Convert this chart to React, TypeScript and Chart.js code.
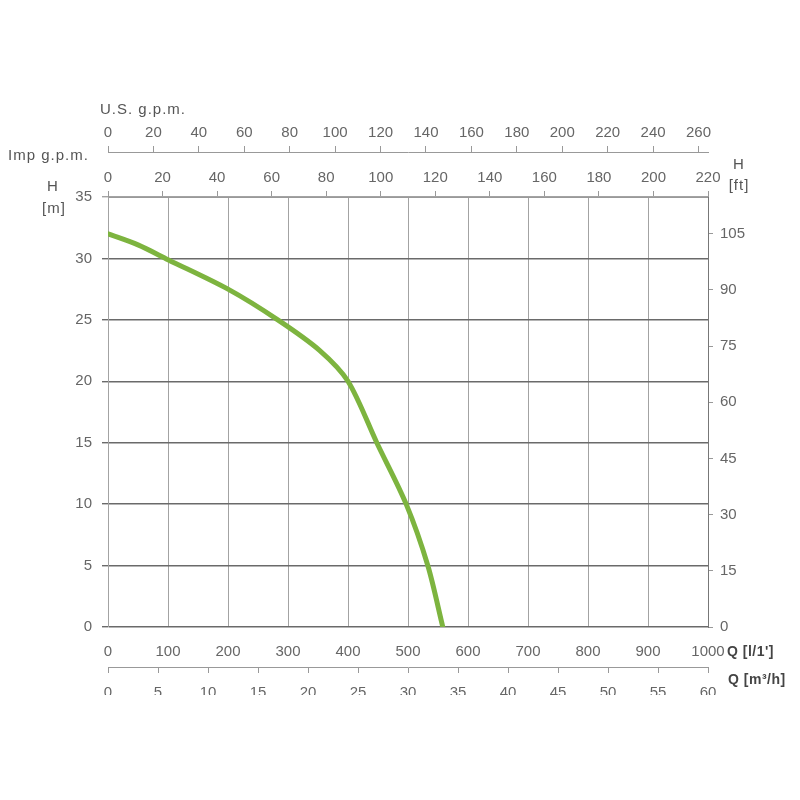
import React, { useEffect, useRef } from 'react';
import { Chart, registerables } from 'chart.js';

Chart.register(...registerables);

// Pump curve: flow Q [l/min] vs head H [m]
const flowLpm = [0, 50, 100, 200, 283, 353, 400, 448, 497, 533, 558];
const headM = [32, 31.1, 29.9, 27.5, 25.0, 22.5, 20, 15, 10, 5, 0];

// Axis ranges and steps
const qMax = 1000;
const qStep = 100;
const hMax = 35;
const hStep = 5;
const ftStep = 15;
const m3hStep = 5;
const gpmStep = 20;

// Unit conversions
const M_TO_FT = 3.28084;
const LPM_TO_M3H = 0.06;
const LPM_TO_USGPM = 0.264172;
const IMP_MAX = 220;

const FONT = '"Liberation Sans", Arial, sans-serif';
const TICK_COLOR = '#666';
const LIGHT_GRID = '#a3a3a3';
const DARK_GRID = '#6a6a6a';
const CURVE_COLOR = '#7db43f';

const tickFont = { family: FONT, size: 15 };
const plain = (v: any) => String(Math.round(Number(v) * 100) / 100);

const titlesPlugin = {
  id: 'axisTitles',
  afterDraw(chart: any) {
    const { ctx, chartArea: a } = chart;
    ctx.save();
    ctx.font = `15px ${FONT}`;
    (ctx as any).letterSpacing = '1px';
    ctx.fillStyle = '#555';
    ctx.textBaseline = 'middle';
    ctx.textAlign = 'left';
    ctx.fillText('U.S. g.p.m.', a.left - 8, a.top - 87);
    ctx.fillText('Imp g.p.m.', 8, a.top - 41);
    ctx.textAlign = 'center';
    ctx.fillText('H', a.left - 55, a.top - 10);
    ctx.fillText('[m]', a.left - 54, a.top + 12);
    ctx.fillText('H', a.right + 31, a.top - 32);
    ctx.fillText('[ft]', a.right + 31, a.top - 11);
    ctx.textAlign = 'left';
    ctx.fillStyle = '#444';
    ctx.font = `bold 14px ${FONT}`;
    (ctx as any).letterSpacing = '0.5px';
    ctx.fillText("Q [l/1']", a.right + 19, a.bottom + 25);
    ctx.fillText('Q [m³/h]', a.right + 20, a.bottom + 53);
    ctx.restore();
  },
};

export default function App() {
  const ref = useRef<HTMLCanvasElement | null>(null);

  useEffect(() => {
    if (!ref.current) return;
    const points = flowLpm.map((q, i) => ({ x: q, y: headM[i] }));
    const chart = new Chart(ref.current, {
      type: 'line',
      data: {
        datasets: [
          {
            data: points,
            borderColor: CURVE_COLOR,
            borderWidth: 5,
            pointRadius: 0,
            fill: false,
            tension: 0.3,
            borderCapStyle: 'round',
            borderJoinStyle: 'round',
            xAxisID: 'x',
            yAxisID: 'y',
          },
        ],
      },
      options: {
        responsive: false,
        animation: false,
        devicePixelRatio: 1,
        layout: { padding: 0 },
        plugins: { legend: { display: false }, tooltip: { enabled: false } },
        scales: {
          x: {
            type: 'linear',
            position: 'bottom',
            weight: 0,
            min: 0,
            max: qMax,
            ticks: { stepSize: qStep, autoSkip: false, maxRotation: 0, color: TICK_COLOR, font: tickFont, padding: 16, callback: plain },
            grid: { color: LIGHT_GRID, lineWidth: 1, drawTicks: false, tickLength: 0 },
            border: { display: false },
            afterFit: (s: any) => { s.height = 40; s.paddingLeft = 0; s.paddingRight = 0; },
          },
          xM3h: {
            type: 'linear',
            position: 'bottom',
            weight: 1,
            min: 0,
            max: qMax * LPM_TO_M3H,
            ticks: { stepSize: m3hStep, autoSkip: false, maxRotation: 0, color: TICK_COLOR, font: tickFont, padding: 11, callback: plain },
            grid: { drawOnChartArea: false, color: '#999', tickLength: 6 },
            border: { display: true, color: '#999' },
            afterFit: (s: any) => { s.height = 28; s.paddingLeft = 0; s.paddingRight = 0; },
          },
          xImp: {
            type: 'linear',
            position: 'top',
            weight: 0,
            min: 0,
            max: IMP_MAX,
            ticks: { stepSize: gpmStep, autoSkip: false, maxRotation: 0, color: TICK_COLOR, font: tickFont, padding: 4, callback: plain },
            grid: { drawOnChartArea: false, color: '#999', tickLength: 6 },
            border: { display: true, color: '#999' },
            afterFit: (s: any) => { s.height = 45; s.paddingLeft = 0; s.paddingRight = 0; },
          },
          xUS: {
            type: 'linear',
            position: 'top',
            weight: 1,
            min: 0,
            max: qMax * LPM_TO_USGPM,
            ticks: { stepSize: gpmStep, includeBounds: false, autoSkip: false, maxRotation: 0, color: TICK_COLOR, font: tickFont, padding: 4, callback: plain },
            grid: { drawOnChartArea: false, color: '#999', tickLength: 6 },
            border: { display: true, color: '#999' },
            afterFit: (s: any) => { s.height = 152; s.paddingLeft = 0; s.paddingRight = 0; },
          },
          y: {
            type: 'linear',
            position: 'left',
            min: 0,
            max: hMax,
            ticks: { stepSize: hStep, color: TICK_COLOR, font: tickFont, padding: 10, callback: plain },
            grid: {
              color: (c: any) => (c.tick && c.tick.value === hMax ? LIGHT_GRID : DARK_GRID),
              lineWidth: 1.4,
              tickLength: 6,
            },
            border: { display: true, color: LIGHT_GRID },
            afterFit: (s: any) => { s.width = 108; s.paddingTop = 0; s.paddingBottom = 0; },
          },
          yFt: {
            type: 'linear',
            position: 'right',
            min: 0,
            max: hMax * M_TO_FT,
            ticks: { stepSize: ftStep, includeBounds: false, color: TICK_COLOR, font: tickFont, padding: 7, callback: plain },
            grid: { drawOnChartArea: false, color: '#999', tickLength: 5 },
            border: { display: true, color: '#777' },
            afterFit: (s: any) => { s.width = 92; s.paddingTop = 0; s.paddingBottom = 0; },
          },
        },
      } as any,
      plugins: [titlesPlugin],
    });
    return () => chart.destroy();
  }, []);

  return (
    <canvas
      ref={ref}
      width={800}
      height={695}
      style={{ position: 'absolute', left: 0, top: 0, background: '#fff' }}
    />
  );
}
